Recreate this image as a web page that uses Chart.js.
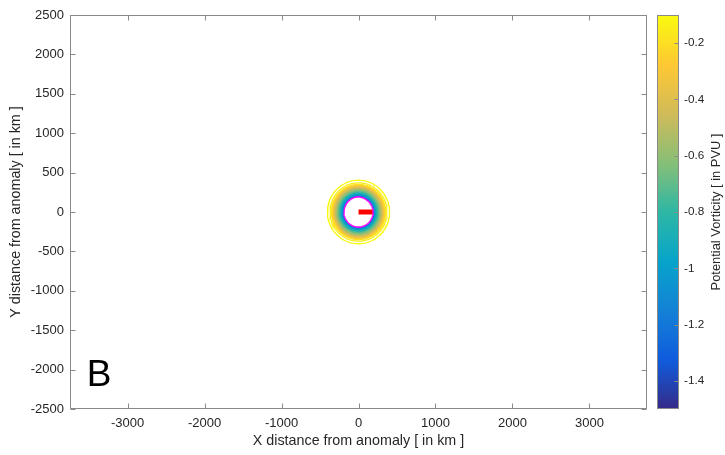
<!DOCTYPE html>
<html><head><meta charset="utf-8">
<script src="https://cdn.jsdelivr.net/npm/chart.js@4.4.1/dist/chart.umd.min.js"></script>
<style>
html,body{margin:0;padding:0;background:#fff;}
#wrap{position:relative;width:725px;height:455px;overflow:hidden;}
canvas{position:absolute;top:0;}
</style>
</head><body>
<div id="wrap">
<canvas id="main" width="725" height="455" style="left:0"></canvas>
<canvas id="cb" width="85" height="455" style="left:640px"></canvas>
</div>
<script>
// ---- data ----
const pvLevels       = [-0.1, -0.15, -0.2, -0.25, -0.3, -0.35, -0.4, -0.45, -0.5, -0.55, -0.6, -0.65, -0.7, -0.75, -0.8, -0.85, -0.9, -0.95, -1.0, -1.05, -1.1, -1.15, -1.2];
const contourRadiiKm = [403, 370, 350, 343, 336, 328, 320, 311, 302, 293, 284, 275, 267, 259, 252, 245, 239, 233, 228, 223, 218, 213, 208];
const boundaryRadiusKm = 195;
const segmentXKm = [0, 205];
const segmentYKm = [0, 0];
const xTicks = [-3000, -2000, -1000, 0, 1000, 2000, 3000];
const yTicks = [-2500, -2000, -1500, -1000, -500, 0, 500, 1000, 1500, 2000, 2500];
const cbTicks = [-1.4, -1.2, -1, -0.8, -0.6, -0.4, -0.2];
const cbRange = [-1.5, -0.1];
const xRange = [-3747, 3747];
const yRange = [-2500, 2500];
const panelLabel = 'B';

// ---- parula colormap ----
const parulaStops = ['#352a87','#0f5cdd','#1481d6','#06a4ca','#2eb7a4','#87bf77','#d1bb59','#fec832','#f9fb0e'];
function hex2rgb(h){return [parseInt(h.substr(1,2),16),parseInt(h.substr(3,2),16),parseInt(h.substr(5,2),16)];}
const parulaRGB = parulaStops.map(hex2rgb);
function parula(t){
  t = Math.max(0, Math.min(1, t));
  const n = parulaRGB.length - 1;
  const f = t * n, i = Math.min(n - 1, Math.floor(f)), u = f - i;
  const a = parulaRGB[i], b = parulaRGB[i + 1];
  return 'rgb(' + a.map((v, k) => Math.round(v + (b[k] - v) * u)).join(',') + ')';
}
function pvColor(v){ return parula((v - cbRange[0]) / (cbRange[1] - cbRange[0])); }
function circle(r){
  const pts = [];
  const n = 180;
  for (let i = 0; i <= n; i++) {
    const a = 2 * Math.PI * i / n;
    pts.push({x: r * Math.cos(a), y: r * Math.sin(a)});
  }
  return pts;
}

Chart.defaults.font.family = '"Liberation Sans", Arial, Helvetica, sans-serif';
Chart.defaults.color = '#262626';

const AXIS_COLOR = '#8a8a8a';

const datasets = pvLevels.map((lv, i) => ({
  data: circle(contourRadiiKm[i]),
  showLine: true, borderColor: pvColor(lv), borderWidth: 1.3,
  pointRadius: 0, fill: false, tension: 0
}));
datasets.push({
  data: circle(boundaryRadiusKm), showLine: true, borderColor: '#ff00ff', borderWidth: 2,
  pointRadius: 0, fill: false
});
datasets.push({
  data: segmentXKm.map((x, i) => ({x: x, y: segmentYKm[i]})), showLine: true,
  borderColor: '#ff0000', borderWidth: 5, borderCapStyle: 'butt', pointRadius: 0, fill: false
});

const boxPlugin = {
  id: 'box',
  afterDatasetsDraw(chart){
    const {ctx, chartArea: a, scales: {x, y}} = chart;
    ctx.save();
    ctx.strokeStyle = AXIS_COLOR; ctx.lineWidth = 1;
    const L = Math.round(a.left) + 0.5, R = Math.round(a.right) - 0.5, T = Math.round(a.top) + 0.5, B = Math.round(a.bottom) - 0.5;
    ctx.strokeRect(L, T, R - L, B - T);
    const tl = 5;
    ctx.beginPath();
    xTicks.forEach(v => {
      const px = Math.round(x.getPixelForValue(v)) + 0.5;
      ctx.moveTo(px, B); ctx.lineTo(px, B - tl);
      ctx.moveTo(px, T); ctx.lineTo(px, T + tl);
    });
    yTicks.forEach(v => {
      const py = Math.round(y.getPixelForValue(v)) + 0.5;
      ctx.moveTo(L, py); ctx.lineTo(L + tl, py);
      ctx.moveTo(R, py); ctx.lineTo(R - tl, py);
    });
    ctx.stroke();
    // panel label
    ctx.fillStyle = '#000';
    ctx.font = '37px "Liberation Sans", Arial, sans-serif';
    ctx.textBaseline = 'alphabetic'; ctx.textAlign = 'left';
    ctx.fillText(panelLabel, x.getPixelForValue(-3530), y.getPixelForValue(-2205));
    ctx.restore();
  }
};

new Chart(document.getElementById('main'), {
  type: 'scatter',
  data: {datasets},
  plugins: [boxPlugin],
  options: {
    responsive: false, animation: false, devicePixelRatio: 1,
    layout: {padding: {left: 0, top: 15, right: 78, bottom: 0}},
    plugins: {legend: {display: false}, tooltip: {enabled: false}},
    scales: {
      x: {
        type: 'linear', min: xRange[0], max: xRange[1],
        grid: {display: false, drawTicks: false}, border: {display: false},
        afterBuildTicks: s => { s.ticks = xTicks.map(v => ({value: v})); },
        afterFit: s => { s.height = 46; },
        ticks: {padding: 7, maxRotation: 0, autoSkip: false, font: {size: 13}, color: '#262626', callback: v => String(v)},
        title: {display: true, text: 'X distance from anomaly [ in km ]', font: {size: 14.3}, color: '#262626', padding: {top: 0, bottom: 5}}
      },
      y: {
        type: 'linear', min: yRange[0], max: yRange[1],
        grid: {display: false, drawTicks: false}, border: {display: false},
        afterBuildTicks: s => { s.ticks = yTicks.map(v => ({value: v})); },
        afterFit: s => { s.width = 70; },
        ticks: {padding: 6, autoSkip: false, font: {size: 13}, color: '#262626', callback: v => String(v)},
        title: {display: true, text: 'Y distance from anomaly [ in km ]', font: {size: 14.3}, color: '#262626', padding: {top: 7, bottom: 0}}
      }
    }
  }
});

// ---- colorbar ----
const cbPlugin = {
  id: 'cbdecor',
  afterDatasetsDraw(chart){
    const {ctx, chartArea: a, scales: {y}} = chart;
    ctx.save();
    ctx.strokeStyle = AXIS_COLOR; ctx.lineWidth = 1;
    const L = Math.round(a.left) + 0.5, R = Math.round(a.right) - 0.5, T = Math.round(a.top) + 0.5, B = Math.round(a.bottom) - 0.5;
    ctx.strokeRect(L, T, R - L, B - T);
    ctx.beginPath();
    cbTicks.forEach(v => {
      const py = Math.round(y.getPixelForValue(v)) + 0.5;
      ctx.moveTo(R, py); ctx.lineTo(R - 4, py);
    });
    ctx.stroke();
    ctx.fillStyle = '#262626';
    ctx.font = '12.9px "Liberation Sans", Arial, sans-serif';
    ctx.textAlign = 'center'; ctx.textBaseline = 'middle';
    ctx.translate(76, (a.top + a.bottom) / 2);
    ctx.rotate(-Math.PI / 2);
    ctx.fillText('Potential Vorticity [ in PVU ]', 0, 0);
    ctx.restore();
  }
};

new Chart(document.getElementById('cb'), {
  type: 'bar',
  data: {
    labels: ['PV'],
    datasets: [{
      data: [cbRange],
      barPercentage: 1, categoryPercentage: 1, borderWidth: 0,
      backgroundColor: (c) => {
        const ch = c.chart;
        if (!ch.chartArea) return '#888';
        const ys = ch.scales.y;
        const g = ch.ctx.createLinearGradient(0, ys.getPixelForValue(cbRange[0]), 0, ys.getPixelForValue(cbRange[1]));
        for (let i = 0; i <= 32; i++) g.addColorStop(i / 32, parula(i / 32));
        return g;
      }
    }]
  },
  plugins: [cbPlugin],
  options: {
    responsive: false, animation: false, devicePixelRatio: 1,
    layout: {padding: {left: 17, top: 15, right: 0, bottom: 46}},
    plugins: {legend: {display: false}, tooltip: {enabled: false}},
    scales: {
      x: {display: false},
      y: {
        type: 'linear', position: 'right', min: cbRange[0], max: cbRange[1],
        grid: {display: false, drawTicks: false}, border: {display: false},
        afterBuildTicks: s => { s.ticks = cbTicks.map(v => ({value: v})); },
        afterFit: s => { s.width = 46; },
        ticks: {padding: 5, autoSkip: false, font: {size: 11.7}, color: '#262626', callback: v => String(v)}
      }
    }
  }
});
</script>
</body></html>
